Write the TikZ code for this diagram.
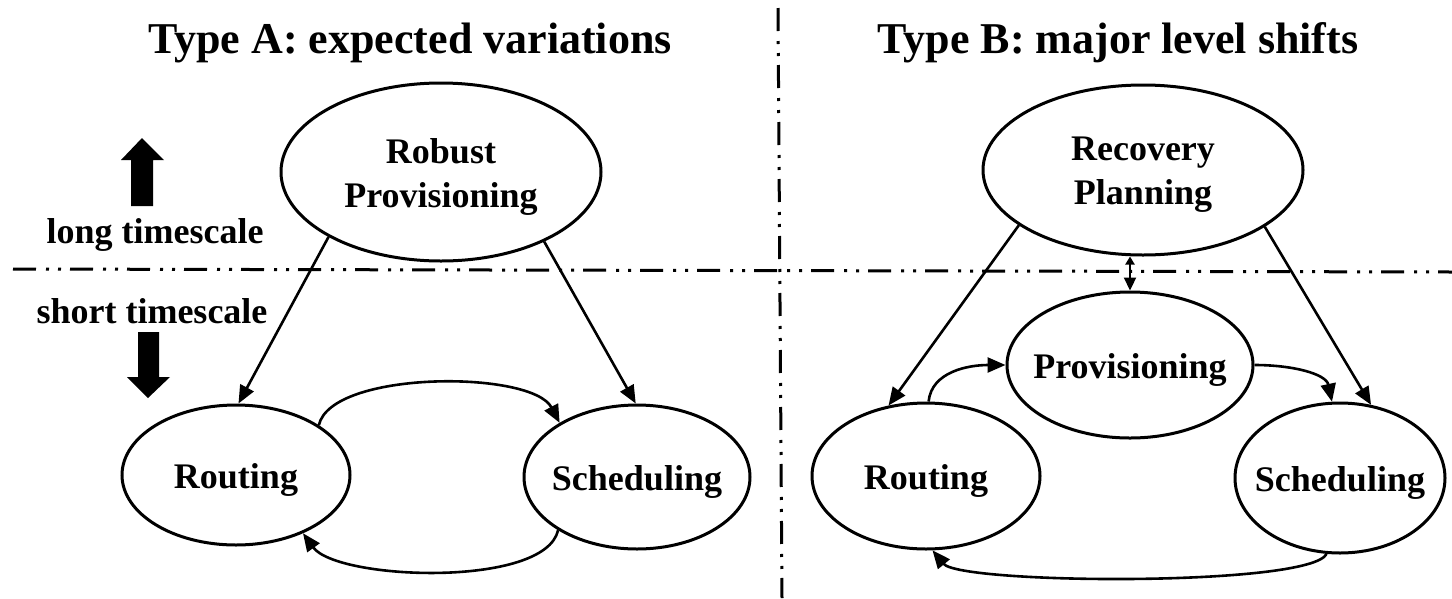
\documentclass[tikz,border=0pt]{standalone}
\usepackage{fontspec}
\setmainfont{Liberation Serif}
\usetikzlibrary{shapes.geometric,arrows.meta}
\begin{document}
\begin{tikzpicture}[x=1pt,y=-1pt,
  stage/.style={draw,ellipse,line width=3pt,inner sep=0pt},
  stagetext/.style={align=center,yshift=-5pt,font=\fontsize{36}{44}\selectfont\bfseries},
  link/.style={line width=2.6pt,-{Triangle[length=18pt,width=15pt]}},
  divider/.style={line width=3pt,dash pattern=on 23pt off 10pt on 3pt off 9pt on 3pt off 9pt},
  heading/.style={anchor=base,font=\fontsize{44}{50}\selectfont\bfseries},
  sidetext/.style={anchor=base,font=\fontsize{36}{40}\selectfont\bfseries}]
\useasboundingbox (0,0) rectangle (1452,598);

% section dividers
\draw[divider] (13,269) -- (1452,272);
\draw[divider] (778,8) -- (782,598);

% headings
\node[heading] (hA) at (410,53) {Type A: expected variations};
\node[heading] (hB) at (1118,53) {Type B: major level shifts};

% timescale markers
\fill (131,206) -- (131,160) -- (121,160) -- (142,138) -- (164,160) -- (153,160) -- (153,206) -- cycle;
\fill (138,332) -- (159,332) -- (159,377) -- (170,377) -- (148,398) -- (127,377) -- (138,377) -- cycle;
\node[sidetext] (long) at (155,243) {long timescale};
\node[sidetext] (short) at (152,323) {short timescale};

% Type A
\node[stage,minimum width=320pt,minimum height=178pt] (rp) at (441,172) {};
\node[stagetext] (rpt) at (rp.center) {Robust\\Provisioning};
\node[stage,minimum width=228pt,minimum height=140pt] (ra) at (236,475) {};
\node[stagetext] (rat) at (ra.center) {Routing};
\node[stage,minimum width=226pt,minimum height=144pt] (sa) at (637,477) {};
\node[stagetext] (sat) at (sa.center) {Scheduling};

\draw[link] (rp.210.7) -- (ra.88);
\draw[link] (rp.326) -- (sa.91.5);
\draw[link] (ra.31.4) .. controls +(12,-55) and +(-28,-53) .. (sa.145.6);
\draw[link] (sa.214.8) .. controls +(-13,58) and +(34,47) .. (ra.319.6);

% Type B
\node[stage,minimum width=320pt,minimum height=170pt] (rec) at (1143,170) {};
\node[stagetext] (rect) at (rec.center) {Recovery\\Planning};
\node[stage,minimum width=246pt,minimum height=146pt] (pv) at (1130,365) {};
\node[stagetext] (pvt) at (pv.center) {Provisioning};
\node[stage,minimum width=228pt,minimum height=146pt] (rb) at (926,476) {};
\node[stagetext] (rbt) at (rb.center) {Routing};
\node[stage,minimum width=210pt,minimum height=150pt] (sb) at (1340,478) {};
\node[stagetext] (sbt) at (sb.center) {Scheduling};

\draw[link] (rec.204.7) -- (rb.118);
\draw[link] (rec.335.3) -- (sb.67);
\draw[line width=2.2pt,{Triangle[length=8pt,width=9pt]}-{Triangle[length=13pt,width=12pt]}] (pv.north |- rec.south) -- (pv.north);
\draw[link] (rb.88) .. controls +(3,-30) and +(-37,0) .. (pv.west);
\draw[link] (pv.east) .. controls +(38,0) and +(-6,-28) .. (sb.96);
\draw[link] (sb.260) .. controls +(-17,33) and +(28,34) .. (rb.275);
\end{tikzpicture}
\end{document}
